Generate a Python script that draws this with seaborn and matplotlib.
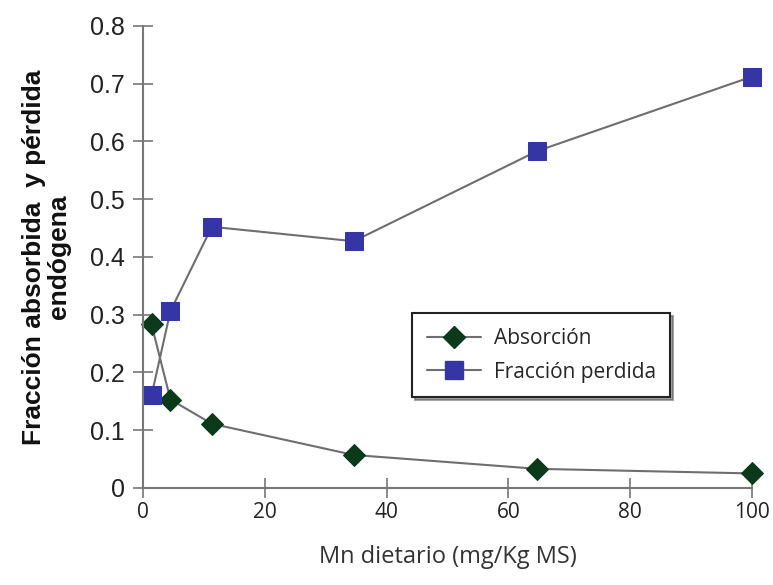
import matplotlib
matplotlib.use("Agg")
import matplotlib.pyplot as plt
import seaborn as sns
import pandas as pd
from matplotlib.lines import Line2D

# Data
mn_dietario = [1.4, 4.5, 11.3, 34.6, 64.7, 100]
absorcion = [0.283, 0.153, 0.111, 0.057, 0.033, 0.025]
fraccion_perdida = [0.160, 0.306, 0.452, 0.427, 0.583, 0.712]
series_names = ["Absorción", "Fracción perdida"]
x_ticks = [0, 20, 40, 60, 80, 100]
y_ticks = [0, 0.1, 0.2, 0.3, 0.4, 0.5, 0.6, 0.7, 0.8]
y_tick_labels = ["0", "0.1", "0.2", "0.3", "0.4", "0.5", "0.6", "0.7", "0.8"]

sns.set_theme(style="white")
plt.rcParams["font.family"] = ["Open Sans", "DejaVu Sans"]
plt.rcParams["xtick.bottom"] = True
plt.rcParams["ytick.left"] = True

df = pd.DataFrame({
    "x": mn_dietario * 2,
    "y": absorcion + fraccion_perdida,
    "serie": [series_names[0]] * len(mn_dietario) + [series_names[1]] * len(mn_dietario),
})

fig = plt.figure(figsize=(7.73, 5.85), dpi=100)
ax = fig.add_axes([0.185, 0.166, 0.788, 0.79])

green = "#0b3a1a"
blue = "#3535a5"
line_c = "#6e6e6e"

sns.lineplot(data=df[df.serie == series_names[0]], x="x", y="y", ax=ax,
             color=line_c, linewidth=1.5, marker="D", markersize=11,
             markerfacecolor=green, markeredgecolor=green, legend=False, clip_on=False)
sns.lineplot(data=df[df.serie == series_names[1]], x="x", y="y", ax=ax,
             color=line_c, linewidth=1.5, marker="s", markersize=12.5,
             markerfacecolor=blue, markeredgecolor=blue, legend=False, clip_on=False)

ax.set_xlim(0, 100)
ax.set_ylim(0, 0.8)
ax.set_xticks(x_ticks)
ax.set_xticklabels([str(t) for t in x_ticks], fontsize=15, family=["Open Sans"], color="#222222")
ax.set_yticks(y_ticks)
ax.set_yticklabels(y_tick_labels, fontsize=18, family=["Liberation Sans"], color="#222222")
ax.tick_params(axis="both", direction="inout", length=14, width=1.2, color="#777777", pad=3)
ax.tick_params(axis="y", pad=6)

for s in ["top", "right"]:
    ax.spines[s].set_visible(False)
for s in ["left", "bottom"]:
    ax.spines[s].set_color("#777777")
    ax.spines[s].set_linewidth(1.5)

ax.set_xlabel("Mn dietario (mg/Kg MS)", fontsize=17, color="#333333", labelpad=16)
ax.set_ylabel("Fracción absorbida  y pérdida\nendógena", fontsize=19, fontweight="bold",
              family=["Liberation Sans"], color="#111111", labelpad=14, linespacing=1.05)

handles = [
    Line2D([0], [0], color=line_c, linewidth=1.5, marker="D", markersize=11,
           markerfacecolor=green, markeredgecolor=green),
    Line2D([0], [0], color=line_c, linewidth=1.5, marker="s", markersize=12.5,
           markerfacecolor=blue, markeredgecolor=blue),
]
leg = ax.legend(handles, series_names, loc="upper left", bbox_to_anchor=(0.425, 0.40),
                frameon=True, fancybox=False, shadow=True, fontsize=15,
                handlelength=2.6, borderpad=0.7, labelspacing=0.6, handletextpad=0.6)
leg.get_frame().set_edgecolor("#222222")
leg.get_frame().set_linewidth(1.5)

fig.savefig("out.png", dpi=100)
